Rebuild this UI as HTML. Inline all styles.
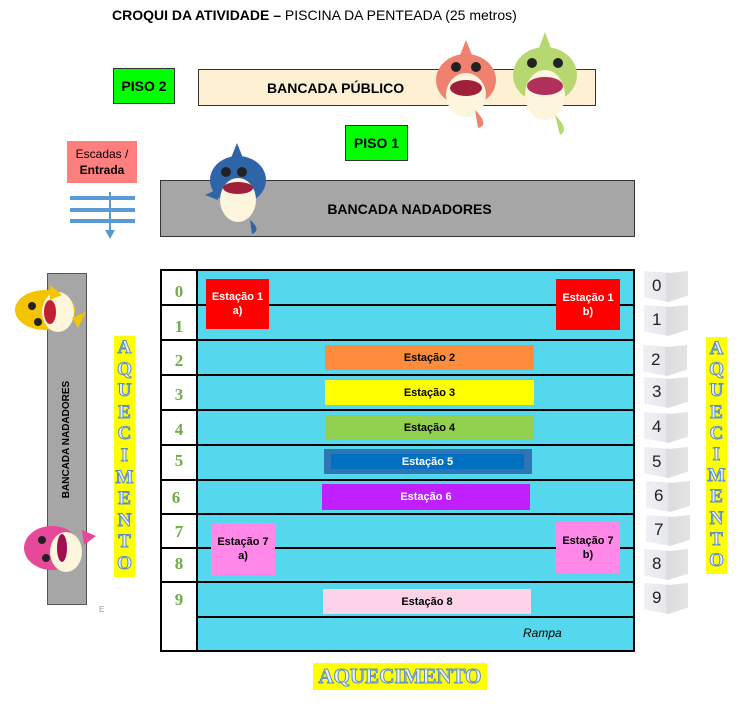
<!DOCTYPE html>
<html><head><meta charset="utf-8"><style>
body{margin:0;width:748px;height:709px;background:#fff;position:relative;overflow:hidden;font-family:"Liberation Sans",sans-serif}
.a{position:absolute;box-sizing:border-box}
.c{display:flex;align-items:center;justify-content:center;text-align:center;font-weight:bold}
.st{font-size:11px;font-weight:bold;line-height:14px}
.n{position:absolute;left:160px;width:38px;text-align:center;font-family:"Liberation Serif",serif;font-weight:bold;color:#70ad47;font-size:17px}
.h{position:absolute;left:198px;width:436px;height:2px;background:#000}
.cube{position:absolute;left:644px;width:36px;height:31px;background:linear-gradient(90deg,#eef0f4 0%,#e6e8ec 50%,#dcdcdc 51%,#e4e4e4 100%);clip-path:polygon(0 0,60% 6%,100% 0,100% 80%,55% 100%,0 85%);font-size:17px;color:#222;padding-left:8px;line-height:30px}
.aq{font-family:"Liberation Serif",serif;font-weight:bold;color:#eef3fb;-webkit-text-stroke:1px #5b8dc9;background:#ff0}
.v{display:flex;flex-direction:column;align-items:center;font-size:19px;line-height:21.6px;padding-top:1px}
</style></head><body>
<div class="a" style="left:112px;top:7px;font-size:14px;white-space:nowrap"><b>CROQUI DA ATIVIDADE –</b> PISCINA DA PENTEADA (25 metros)</div>
<div class="a c" style="left:113px;top:68px;width:62px;height:36px;background:#00ff00;border:1px solid #333;font-size:14px">PISO 2</div>
<div class="a c" style="left:198px;top:69px;width:398px;height:37px;background:#fdf0d3;border:1px solid #333;font-size:14px;justify-content:flex-start;padding-left:68px">BANCADA PÚBLICO</div>
<div class="a c" style="left:345px;top:125px;width:63px;height:36px;background:#00ff00;border:1px solid #333;font-size:14px">PISO 1</div>
<div class="a c" style="left:67px;top:141px;width:70px;height:42px;background:#ff7f7f;font-size:12px;font-weight:normal;line-height:16px;flex-direction:column">Escadas /<b>Entrada</b></div>
<div class="a" style="left:70px;top:196px;width:65px;height:4px;background:#5b9bd5"></div>
<div class="a" style="left:70px;top:208px;width:65px;height:4px;background:#5b9bd5"></div>
<div class="a" style="left:70px;top:219px;width:65px;height:4px;background:#5b9bd5"></div>
<div class="a" style="left:109px;top:192px;width:2px;height:40px;background:#5b9bd5"></div>
<div class="a" style="left:105px;top:230px;width:0;height:0;border-left:5px solid transparent;border-right:5px solid transparent;border-top:9px solid #5b9bd5"></div>
<div class="a c" style="left:160px;top:180px;width:475px;height:57px;background:#a6a6a6;border:1px solid #333;font-size:14px;padding-left:24px">BANCADA NADADORES</div>
<svg class="a" style="left:0;top:0" width="748" height="709">
<g><path d="M466 40 L472 55 L460 55Z" fill="#f08070"/><ellipse cx="466" cy="80" rx="30" ry="26" fill="#f08070"/><ellipse cx="466" cy="95" rx="20" ry="22" fill="#fdf5dc"/><ellipse cx="466" cy="88" rx="16" ry="8" fill="#a0203c"/><circle cx="456" cy="67" r="5" fill="#222"/><circle cx="476" cy="67" r="5" fill="#222"/><path d="M475 110 Q490 125 478 128 Z" fill="#f08070"/></g>
<g><path d="M545 32 L551 48 L539 48Z" fill="#b7d870"/><ellipse cx="545" cy="75" rx="32" ry="28" fill="#b7d870"/><ellipse cx="545" cy="95" rx="20" ry="25" fill="#fdf5dc"/><ellipse cx="545" cy="86" rx="18" ry="9" fill="#b0305a"/><circle cx="532" cy="63" r="5" fill="#222"/><circle cx="558" cy="63" r="5" fill="#222"/><path d="M555 115 Q570 130 560 135 Z" fill="#b7d870"/></g>
<g><path d="M237 143 L243 158 L231 158Z" fill="#2e64a8"/><ellipse cx="238" cy="180" rx="28" ry="24" fill="#2e64a8"/><ellipse cx="238" cy="200" rx="18" ry="22" fill="#fdf5dc"/><ellipse cx="238" cy="188" rx="15" ry="6" fill="#a0203c"/><circle cx="226" cy="172" r="5" fill="#222"/><circle cx="242" cy="172" r="5" fill="#222"/><path d="M205 195 L220 188 L218 200Z" fill="#2e64a8"/><path d="M250 220 Q262 230 252 234 Z" fill="#2e64a8"/></g>
</svg>
<div class="a" style="left:47px;top:273px;width:40px;height:332px;background:#a6a6a6;border:1px solid #555"></div>
<div class="a" style="left:47px;top:273px;width:40px;height:332px;display:flex;align-items:center;justify-content:center"><div style="transform:rotate(-90deg);white-space:nowrap;font-size:10px;font-weight:bold">BANCADA NADADORES</div></div>
<svg class="a" style="left:0;top:0" width="748" height="709">
<g><ellipse cx="45" cy="310" rx="30" ry="20" fill="#f5c400"/><ellipse cx="58" cy="312" rx="16" ry="20" fill="#fdf5dc"/><ellipse cx="50" cy="312" rx="6" ry="12" fill="#c02030"/><circle cx="32" cy="306" r="4" fill="#222"/><circle cx="38" cy="322" r="4" fill="#222"/><path d="M50 285 L62 295 L50 300Z" fill="#f5c400"/><path d="M72 318 L86 312 L78 328Z" fill="#f5c400"/></g>
<g><ellipse cx="52" cy="548" rx="28" ry="22" fill="#e8489a"/><ellipse cx="66" cy="552" rx="16" ry="20" fill="#fdf5dc"/><ellipse cx="62" cy="548" rx="5" ry="14" fill="#a01050"/><circle cx="42" cy="540" r="4" fill="#222"/><circle cx="46" cy="558" r="4" fill="#222"/><path d="M82 530 L96 536 L84 545Z" fill="#e8489a"/></g>
</svg>
<div class="a" style="left:99px;top:605px;font-size:8px;color:#999">E</div>
<div class="a aq v" style="left:114px;top:336px;width:21px;height:241px"><span>A</span><span>Q</span><span>U</span><span>E</span><span>C</span><span>I</span><span>M</span><span>E</span><span>N</span><span>T</span><span>O</span></div>
<div class="a aq v" style="left:706px;top:337px;width:21px;height:237px;line-height:21.2px"><span>A</span><span>Q</span><span>U</span><span>E</span><span>C</span><span>I</span><span>M</span><span>E</span><span>N</span><span>T</span><span>O</span></div>
<div class="a aq" style="left:313px;top:663px;width:174px;height:27px;font-size:21px;line-height:27px;text-align:center">AQUECIMENTO</div>
<div class="a" style="left:160px;top:269px;width:475px;height:383px;border:2px solid #000;background:#55d8ed"></div>
<div class="a" style="left:162px;top:271px;width:36px;height:379px;background:#fff;border-right:2px solid #000"></div>
<div class="a" style="left:160px;top:304px;width:38px;height:2px;background:#000"></div>
<div class="h" style="top:304px"></div>
<div class="a" style="left:160px;top:339px;width:474px;height:2px;background:#000"></div>
<div class="a" style="left:160px;top:374px;width:474px;height:2px;background:#000"></div>
<div class="a" style="left:160px;top:409px;width:474px;height:2px;background:#000"></div>
<div class="a" style="left:160px;top:444px;width:474px;height:2px;background:#000"></div>
<div class="a" style="left:160px;top:479px;width:474px;height:2px;background:#000"></div>
<div class="a" style="left:160px;top:513px;width:474px;height:2px;background:#000"></div>
<div class="a" style="left:160px;top:547px;width:474px;height:2px;background:#000"></div>
<div class="a" style="left:160px;top:581px;width:474px;height:2px;background:#000"></div>
<div class="h" style="top:616px"></div>
<div class="n" style="top:282px">0</div><div class="n" style="top:317px">1</div>
<div class="n" style="top:351px">2</div><div class="n" style="top:385px">3</div>
<div class="n" style="top:420px">4</div><div class="n" style="top:451px">5</div>
<div class="n" style="top:488px;left:157px">6</div><div class="n" style="top:522px">7</div>
<div class="n" style="top:554px">8</div><div class="n" style="top:590px">9</div>
<div class="a c st" style="left:206px;top:279px;width:63px;height:50px;background:#ff0000;color:#fff">Estação 1<br>a)</div>
<div class="a c st" style="left:556px;top:279px;width:64px;height:51px;background:#ff0000;color:#fff">Estação 1<br>b)</div>
<div class="a c st" style="left:325px;top:345px;width:209px;height:25px;background:#ff8c3c">Estação 2</div>
<div class="a c st" style="left:325px;top:380px;width:209px;height:25px;background:#ffff00">Estação 3</div>
<div class="a c st" style="left:325px;top:415px;width:209px;height:25px;background:#92d050">Estação 4</div>
<div class="a" style="left:324px;top:449px;width:208px;height:25px;background:#2e75b6"></div>
<div class="a c st" style="left:331px;top:454px;width:193px;height:15px;background:#0070c0;color:#fff">Estação 5</div>
<div class="a c st" style="left:322px;top:484px;width:208px;height:26px;background:#c020ff;color:#fff">Estação 6</div>
<div class="a c st" style="left:211px;top:523px;width:64px;height:52px;background:#ff88e8">Estação 7<br>a)</div>
<div class="a c st" style="left:556px;top:522px;width:64px;height:51px;background:#ff88e8">Estação 7<br>b)</div>
<div class="a c st" style="left:323px;top:589px;width:208px;height:25px;background:#fdd3ea">Estação 8</div>
<div class="a" style="left:523px;top:626px;font-size:12px;font-style:italic">Rampa</div>
<div class="cube" style="top:271px">0</div><div class="cube" style="top:305px">1</div>
<div class="cube" style="top:345px;left:643px">2</div><div class="cube" style="top:377px">3</div>
<div class="cube" style="top:412px">4</div><div class="cube" style="top:447px">5</div>
<div class="cube" style="top:481px;left:646px">6</div><div class="cube" style="top:515px;left:646px">7</div>
<div class="cube" style="top:549px">8</div><div class="cube" style="top:583px">9</div>
</body></html>
